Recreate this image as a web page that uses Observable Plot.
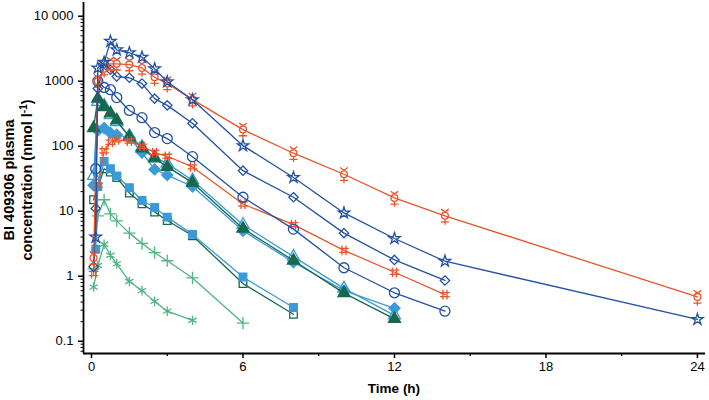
<!DOCTYPE html>
<html><head><meta charset="utf-8">
<script src="https://cdn.jsdelivr.net/npm/d3@7"></script>
<script src="https://cdn.jsdelivr.net/npm/@observablehq/plot@0.6"></script>
<style>
body{margin:0;background:#fff;}
svg{font-family:Arial,"Liberation Sans",sans-serif;}
</style>
</head><body><div id="chart"></div>
<script>
// ---- data (time in h, concentration in nmol/l) ----
const tStar = [0.167,0.25,0.5,0.75,1,1.5,2,2.5,3,4,6,8,10,12,14,24];
const cStar = [4.0,1600,1950,4100,3040,2740,2340,1550,980,520,102,33,9.4,3.8,1.7,0.216];
const tMerc = [0.083,0.25,0.5,0.75,1,1.5,2,2.5,3,4,6,8,10,12,14,24];
const cMerc = [1.9,1000,1550,1850,1850,1800,1600,1150,920,520,180,78,37,16,8.5,0.48];
const tDia = [0.083,0.167,0.25,0.5,0.75,1,1.5,2,2.5,3,4,6,8,10,12,14];
const cDia = [1.4,11,770,1850,1500,1180,1130,920,540,425,225,42,16.4,4.6,1.78,0.86];
const tCir = [0.167,0.25,0.5,0.75,1,1.5,2,2.5,3,4,6,8,10,12,14];
const cCir = [45,1000,800,740,560,355,275,162,131,69,16.4,5.3,1.35,0.556,0.29];
const tHash = [0.083,0.25,0.5,0.75,1,1.5,2,2.5,3,4,6,8,10,12,14];
const cHash = [1.1,25,85,115,125,120,100,80,70,48,12.9,6.2,2.5,1.15,0.52];
const tTriG = [0.083,0.25,0.5,0.75,1,1.5,2,2.5,3,4,6,8,10,12];
const cTriG = [190,540,400,320,250,138,93,65,48,27.5,5.4,1.74,0.55,0.22];
const tTriB = [0.083,0.25,0.5,0.75,1,1.5,2,2.5,3,4,6,8,10,12];
const cTriB = [35,480,420,300,235,145,98,68,54,30,6.2,2.0,0.65,0.25];
const tDiaB = [0.083,0.25,0.5,0.75,1,1.5,2,2.5,3,4,6,8,10,12];
const cDiaB = [25,175,190,160,150,135,80,44,36,24,5.0,1.64,0.6,0.32];
const tSqB = [0.167,0.25,0.5,0.75,1,1.5,2,2.5,3,4,6,8];
const cSqB = [2.6,24,58,45,35,23,14.6,11.4,8.1,4.4,0.97,0.33];
const tSqG = [0.083,0.5,0.75,1,1.5,2,2.5,3,4,6,8];
const cSqG = [15,45,40,33,19,13,9.7,7.2,4.2,0.77,0.26];
const tPlus = [0.083,0.25,0.5,0.75,1,1.5,2,2.5,3,4,6];
const cPlus = [1.3,8.5,15,9.1,7.1,4.6,3.2,2.3,1.73,0.94,0.19];
const tAst = [0.083,0.25,0.5,0.75,1,1.5,2,2.5,3,4];
const cAst = [0.68,1.46,3.1,2.1,1.55,0.83,0.6,0.41,0.29,0.21];

const xTicks = [0,6,12,18,24];
const xMinor = [3,9,15,21];
const yTicks = [0.1,1,10,100,1000,10000];
const yTickLabels = ["0.1","1","10","100","1000","10 000"];

// ---- styles ----
const DARKBLUE="#2251a1", ORANGE="#e8552d", DKGREEN="#17694c", LTBLUE="#3b9bd8", GREEN="#52b383";

const mercury = {draw(ctx,size){
  const r=Math.sqrt(size/Math.PI)*0.62;
  ctx.moveTo(r,0); ctx.arc(0,0,r,0,2*Math.PI);
  ctx.moveTo(0,r); ctx.lineTo(0,r*2.6);
  ctx.moveTo(-r*1.2,r*1.8); ctx.lineTo(r*1.2,r*1.8);
  ctx.moveTo(-r*1.1,-r*2.0); ctx.quadraticCurveTo(0,-r*0.6,r*1.1,-r*2.0);
}};
const hash = {draw(ctx,size){
  const s=Math.sqrt(size)*0.55, a=s*0.42;
  ctx.moveTo(-a,-s); ctx.lineTo(-a,s); ctx.moveTo(a,-s); ctx.lineTo(a,s);
  ctx.moveTo(-s,-a); ctx.lineTo(s,-a); ctx.moveTo(-s,a); ctx.lineTo(s,a);
}};

const series = [
  {t:tAst, c:cAst, color:GREEN, symbol:"asterisk", fill:"none", r:4.5},
  {t:tPlus, c:cPlus, color:GREEN, symbol:"plus", fill:"none", r:4},
  {t:tSqG, c:cSqG, color:DKGREEN, symbol:"square", fill:"none", r:4.3},
  {t:tSqB, c:cSqB, color:LTBLUE, symbol:"square", fill:LTBLUE, r:4.3},
  {t:tDiaB, c:cDiaB, color:LTBLUE, symbol:"diamond2", fill:LTBLUE, r:5},
  {t:tTriB, c:cTriB, color:LTBLUE, symbol:"triangle", fill:"none", r:4.5},
  {t:tTriG, c:cTriG, color:DKGREEN, symbol:"triangle", fill:DKGREEN, r:4.5},
  {t:tHash, c:cHash, color:ORANGE, symbol:hash, fill:"none", r:5},
  {t:tCir, c:cCir, color:DARKBLUE, symbol:"circle", fill:"none", r:5},
  {t:tDia, c:cDia, color:DARKBLUE, symbol:"diamond2", fill:"none", r:4.2},
  {t:tMerc, c:cMerc, color:ORANGE, symbol:mercury, fill:"none", r:5.5},
  {t:tStar, c:cStar, color:DARKBLUE, symbol:"star", fill:"none", r:3.6}
];
const rows = series.flatMap((s,i)=>s.t.map((t,j)=>({k:i,t,c:s.c[j]})));

const xDom=[-0.317,24.32], yDom=[0.0647,16250];
const yMinor = [];
for (const d of [0.01,0.1,1,10,100,1000,10000]) for (let m=2;m<=9;m++){const v=d*m; if(v>yDom[0]&&v<yDom[1]) yMinor.push(v);}

const dataMarks = series.flatMap((s,i)=>{
  const d = rows.filter(r=>r.k===i);
  return [
    Plot.line(d,{x:"t",y:"c",stroke:s.color,strokeWidth:1.3}),
    Plot.dot(d,{x:"t",y:"c",symbol:s.symbol,r:s.r,stroke:s.color,fill:s.fill,strokeWidth:1.3})
  ];
});

const chart = Plot.plot({
  width:709, height:400,
  marginLeft:83, marginRight:4, marginTop:2, marginBottom:47,
  style:{fontFamily:"Arial, 'Liberation Sans', sans-serif", fontSize:"13px", color:"#000", background:"#fff"},
  x:{domain:xDom, label:null},
  y:{type:"log", domain:yDom, label:null},
  marks:[
    Plot.axisX({ticks:xTicks, tickSize:5, tickPadding:3, tickFormat:d=>String(d), label:null, fontSize:13, strokeWidth:1.5}),
    Plot.axisX({ticks:xMinor, tickSize:3, tickFormat:()=>"", label:null, strokeWidth:1.3}),
    Plot.axisY({ticks:yTicks, tickSize:5, tickPadding:5, tickFormat:d=>yTickLabels[yTicks.indexOf(d)] ?? "", label:null, fontSize:13, strokeWidth:1.5}),
    Plot.axisY({ticks:yMinor, tickSize:2.5, tickFormat:()=>"", label:null, strokeWidth:1}),
    Plot.ruleX([xDom[0]],{stroke:"#000",strokeWidth:1.8}),
    Plot.ruleY([yDom[0]],{stroke:"#000",strokeWidth:1.8}),
    ...dataMarks
  ]
});
document.getElementById("chart").appendChild(chart);

const svg = d3.select(chart.tagName.toLowerCase()==="svg" ? chart : chart.querySelector("svg"));
svg.append("text").attr("x",394).attr("y",393).attr("text-anchor","middle")
  .attr("font-weight","bold").attr("font-size",13.5).attr("fill","#000").text("Time (h)");
const yt = svg.append("text").attr("transform","translate(14,180) rotate(-90)")
  .attr("text-anchor","middle").attr("font-weight","bold").attr("font-size",14.5).attr("fill","#000");
yt.append("tspan").attr("x",0).attr("y",0).text("BI 409306 plasma");
yt.append("tspan").attr("x",0).attr("y",18).text("concentration (nmol l");
yt.append("tspan").attr("dy",-5).attr("font-size",10).text("-1");
yt.append("tspan").attr("dy",5).text(")");
</script>
</body></html>
